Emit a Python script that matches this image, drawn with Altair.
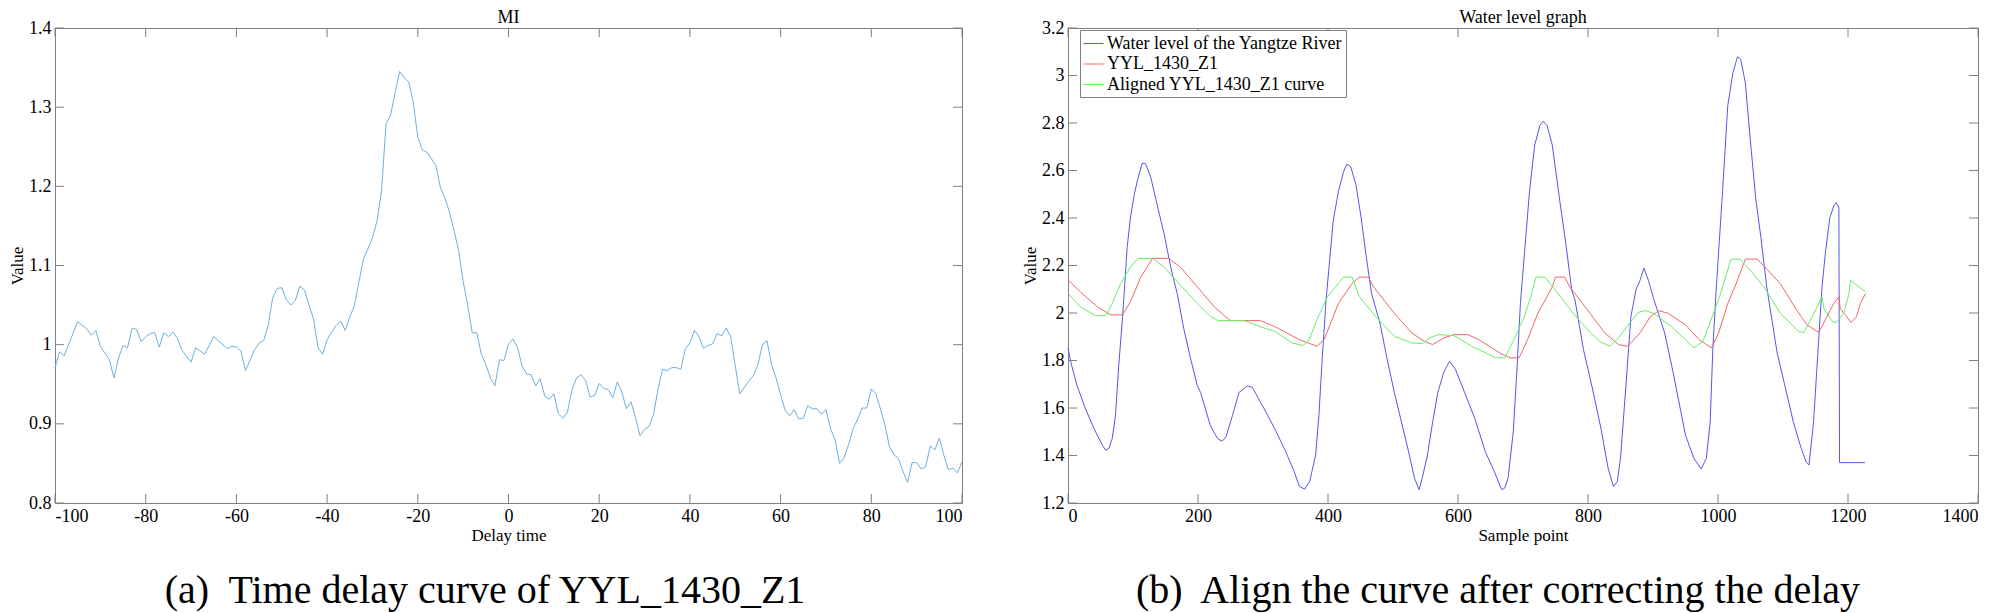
import altair as alt
import pandas as pd

FONT = "Liberation Serif"
AX = "#808080"

# ---------------- Left panel: MI time-delay curve ----------------
mi_delay = [-100, -99, -98, -95, -93, -92, -91, -90, -88, -87, -86, -85, -84, -83, -82, -81, -80,
            -79, -78, -77, -76, -75, -74, -73, -72, -70, -69, -67, -65, -62, -61, -60, -59, -58,
            -56, -55, -54, -53, -52, -51, -50, -49, -48, -47, -46, -45, -44, -43, -42, -41, -40,
            -39, -38, -37, -36, -35, -34, -32, -31, -30, -29, -28, -27, -26, -25, -24, -23, -22,
            -21, -20, -19, -18, -17, -16, -15, -14, -13, -12, -11, -10, -9, -8, -7, -6, -5, -4,
            -3, -2, -1, 0, 1, 2, 3, 4, 5, 6, 7, 8, 9, 10, 11, 12, 13, 14, 15, 16, 17, 18, 19, 20,
            21, 22, 23, 24, 25, 26, 27, 28, 29, 30, 31, 32, 33, 34, 35, 36, 37, 38, 39, 40, 41,
            42, 43, 44, 45, 46, 47, 48, 49, 50, 51, 52, 53, 54, 55, 56, 57, 58, 59, 60, 61, 62,
            63, 64, 65, 66, 67, 68, 69, 70, 71, 72, 73, 74, 75, 76, 77, 78, 79, 80, 81, 82, 83,
            84, 85, 86, 87, 88, 89, 90, 91, 92, 93, 94, 95, 96, 97, 98, 99, 100]
mi_value = [0.971, 0.991, 0.986, 1.029, 1.020, 1.012, 1.018, 0.998, 0.981, 0.958, 0.983, 0.999,
            0.996, 1.021, 1.019, 1.004, 1.010, 1.014, 1.015, 0.997, 1.015, 1.010, 1.016, 1.008,
            0.993, 0.978, 0.996, 0.988, 1.010, 0.995, 0.998, 0.997, 0.992, 0.967, 0.994, 1.002,
            1.005, 1.024, 1.059, 1.071, 1.072, 1.057, 1.050, 1.056, 1.074, 1.069, 1.050, 1.033,
            0.996, 0.988, 1.006, 1.016, 1.024, 1.030, 1.018, 1.035, 1.049, 1.108, 1.121, 1.135,
            1.156, 1.194, 1.279, 1.290, 1.318, 1.345, 1.337, 1.332, 1.306, 1.262, 1.246, 1.243,
            1.235, 1.226, 1.198, 1.185, 1.167, 1.144, 1.119, 1.080, 1.050, 1.015, 1.015, 0.988,
            0.975, 0.958, 0.948, 0.981, 0.980, 1.001, 1.007, 0.996, 0.973, 0.963, 0.962, 0.948,
            0.957, 0.935, 0.931, 0.938, 0.913, 0.907, 0.915, 0.943, 0.958, 0.962, 0.955, 0.934,
            0.936, 0.951, 0.945, 0.943, 0.933, 0.953, 0.940, 0.919, 0.928, 0.908, 0.885, 0.893,
            0.897, 0.912, 0.945, 0.969, 0.967, 0.971, 0.971, 0.969, 0.995, 1.002, 1.018, 1.010,
            0.995, 0.999, 1.001, 1.014, 1.011, 1.021, 1.010, 0.973, 0.938, 0.946, 0.954, 0.961,
            0.975, 1.000, 1.005, 0.975, 0.958, 0.937, 0.917, 0.910, 0.918, 0.906, 0.907, 0.923,
            0.919, 0.919, 0.912, 0.918, 0.894, 0.880, 0.850, 0.857, 0.874, 0.894, 0.906, 0.920,
            0.920, 0.944, 0.938, 0.919, 0.899, 0.871, 0.861, 0.856, 0.840, 0.826, 0.851, 0.851,
            0.843, 0.846, 0.872, 0.867, 0.882, 0.860, 0.842, 0.844, 0.838, 0.852]

# ---------------- Right panel: water level graph ----------------
river_x = [0, 4, 14, 27, 40, 53, 58, 63, 68, 73, 78, 84, 91, 96, 102, 107, 114, 119, 127, 137,
           148, 158, 168, 178, 189, 199, 204, 219, 230, 237, 243, 253, 263, 276, 284, 296, 302,
           318, 335, 348, 356, 364, 372, 381, 386, 391, 397, 408, 416, 424, 429, 435, 443, 451,
           459, 467, 480, 491, 502, 513, 524, 533, 540, 545, 553, 561, 569, 578, 587, 596, 610,
           626, 642, 656, 667, 672, 677, 685, 691, 696, 710, 718, 726, 731, 737, 745, 756, 766,
           775, 780, 793, 807, 820, 831, 839, 845, 850, 858, 866, 874, 880, 886, 893, 901, 918,
           931, 950, 963, 974, 982, 988, 992, 997, 1007, 1015, 1023, 1030, 1035, 1042, 1050,
           1058, 1066, 1075, 1091, 1103, 1116, 1128, 1136, 1140, 1147, 1152, 1160, 1165, 1172,
           1179, 1182, 1186, 1187, 1226]
river_y = [1.853, 1.797, 1.693, 1.596, 1.513, 1.443, 1.422, 1.430, 1.471, 1.568, 1.776, 1.985,
           2.276, 2.400, 2.500, 2.560, 2.630, 2.630, 2.575, 2.457, 2.332, 2.193, 2.082, 1.935,
           1.804, 1.693, 1.665, 1.526, 1.471, 1.460, 1.478, 1.568, 1.665, 1.693, 1.686, 1.624,
           1.596, 1.513, 1.416, 1.332, 1.270, 1.258, 1.293, 1.402, 1.568, 1.805, 2.055, 2.387,
           2.512, 2.596, 2.626, 2.616, 2.540, 2.401, 2.234, 2.082, 1.957, 1.805, 1.666, 1.541,
           1.416, 1.305, 1.256, 1.305, 1.402, 1.541, 1.666, 1.749, 1.798, 1.763, 1.666, 1.555,
           1.416, 1.332, 1.256, 1.263, 1.305, 1.499, 1.777, 2.040, 2.512, 2.707, 2.790, 2.807,
           2.790, 2.707, 2.484, 2.290, 2.095, 2.055, 1.846, 1.680, 1.513, 1.346, 1.270, 1.290,
           1.388, 1.680, 1.985, 2.100, 2.137, 2.189, 2.137, 2.060, 1.916, 1.749, 1.485, 1.388,
           1.343, 1.388, 1.541, 1.846, 2.090, 2.512, 2.873, 3.012, 3.079, 3.068, 2.970, 2.720,
           2.484, 2.318, 2.109, 1.832, 1.693, 1.540, 1.430, 1.370, 1.360, 1.540, 1.762, 2.109,
           2.248, 2.401, 2.457, 2.464, 2.443, 1.370, 1.370]

yyl_x = [0, 19, 45, 66, 84, 96, 112, 130, 155, 173, 199, 225, 245, 250, 296, 318, 356, 383, 394,
         416, 437, 448, 462, 470, 502, 529, 548, 561, 578, 594, 615, 632, 664, 680, 694, 707, 723,
         745, 750, 764, 772, 799, 826, 847, 861, 880, 896, 909, 923, 950, 971, 990, 1001, 1015,
         1028, 1042, 1060, 1070, 1096, 1121, 1137, 1155, 1165, 1178, 1186, 1188, 1196, 1205,
         1213, 1219, 1227]
yyl_y = [2.140, 2.089, 2.026, 1.992, 1.992, 2.047, 2.151, 2.230, 2.230, 2.193, 2.110, 2.026,
         1.978, 1.968, 1.968, 1.943, 1.888, 1.860, 1.888, 2.040, 2.124, 2.151, 2.151, 2.110,
         1.999, 1.916, 1.881, 1.867, 1.895, 1.909, 1.909, 1.888, 1.832, 1.811, 1.811, 1.888,
         1.999, 2.110, 2.151, 2.151, 2.110, 2.013, 1.916, 1.867, 1.860, 1.916, 1.985, 2.010,
         1.999, 1.950, 1.888, 1.853, 1.916, 2.040, 2.124, 2.227, 2.227, 2.200, 2.123, 2.012,
         1.950, 1.918, 1.971, 2.040, 2.068, 2.019, 1.991, 1.960, 1.984, 2.040, 2.082]

aligned_x = [0, 19, 42, 58, 68, 81, 96, 108, 130, 148, 173, 199, 219, 231, 271, 302, 318, 345,
             361, 370, 383, 399, 416, 424, 437, 448, 475, 502, 529, 545, 556, 569, 594, 621, 648,
             658, 672, 686, 702, 712, 720, 734, 750, 777, 804, 820, 834, 847, 864, 877, 888, 901,
             928, 950, 963, 977, 993, 1004, 1020, 1034, 1050, 1071, 1096, 1124, 1132, 1145, 1160,
             1163, 1176, 1182, 1193, 1201, 1204, 1214, 1227]
aligned_y = [2.082, 2.026, 1.989, 1.989, 2.040, 2.124, 2.193, 2.230, 2.230, 2.193, 2.117, 2.040,
             1.985, 1.968, 1.968, 1.936, 1.923, 1.874, 1.863, 1.881, 1.971, 2.068, 2.124, 2.151,
             2.151, 2.070, 1.980, 1.902, 1.874, 1.871, 1.895, 1.909, 1.905, 1.860, 1.825, 1.811,
             1.811, 1.888, 1.985, 2.068, 2.151, 2.151, 2.096, 1.999, 1.916, 1.877, 1.860, 1.895,
             1.957, 2.002, 2.010, 1.999, 1.943, 1.888, 1.853, 1.881, 1.999, 2.082, 2.227, 2.227,
             2.179, 2.109, 1.998, 1.922, 1.918, 1.985, 2.068, 2.019, 1.964, 1.960, 1.998, 2.075,
             2.137, 2.116, 2.089]

series_names = ["Water level of the Yangtze River", "YYL_1430_Z1", "Aligned YYL_1430_Z1 curve"]
series_colors = ["#5656e8", "#f06666", "#66ee66"]

left_xticks = [-100, -80, -60, -40, -20, 0, 20, 40, 60, 80, 100]
left_yticks = [0.8, 0.9, 1, 1.1, 1.2, 1.3, 1.4]
right_xticks = [0, 200, 400, 600, 800, 1000, 1200, 1400]
right_yticks = [1.2, 1.4, 1.6, 1.8, 2, 2.2, 2.4, 2.6, 2.8, 3, 3.2]

panel_titles = ["MI", "Water level graph"]
x_titles = ["Delay time", "Sample point"]
y_title = "Value"
captions = ["(a)\u00a0 Time delay curve of YYL_1430_Z1",
            "(b)\u00a0 Align the curve after correcting the delay"]

W_L, W_R, H = 907, 910, 475
TICK = 9


def axis(values, title):
    return alt.Axis(values=values, labelExpr="'' + datum.value", title=title,
                    domain=False, ticks=False, grid=False)


def inward_ticks(xt, yt, xs, ys, W, xa, ya):
    xdf = pd.DataFrame({"x": xt})
    ydf = pd.DataFrame({"y": yt})
    bx = alt.Chart(xdf).mark_rule(color=AX, strokeWidth=1)
    by = alt.Chart(ydf).mark_rule(color=AX, strokeWidth=1)
    return [
        bx.encode(x=alt.X("x:Q", scale=xs, axis=xa), y=alt.value(0), y2=alt.value(TICK)),
        bx.encode(x=alt.X("x:Q", scale=xs, axis=xa), y=alt.value(H), y2=alt.value(H - TICK)),
        by.encode(y=alt.Y("y:Q", scale=ys, axis=ya), x=alt.value(0), x2=alt.value(TICK)),
        by.encode(y=alt.Y("y:Q", scale=ys, axis=ya), x=alt.value(W - TICK), x2=alt.value(W)),
    ]


def caption(text, cx):
    return alt.Chart(pd.DataFrame({"t": [text]})).mark_text(
        font=FONT, fontSize=40, align="center", baseline="alphabetic", color="black"
    ).encode(text="t:N", x=alt.value(cx), y=alt.value(575))


# left
xs_l = alt.Scale(domain=[-100, 100], nice=False, zero=False)
ys_l = alt.Scale(domain=[0.8, 1.4], nice=False, zero=False)
xa_l = axis(left_xticks, x_titles[0])
ya_l = axis(left_yticks, y_title)
mi_df = pd.DataFrame({"x": mi_delay, "y": mi_value})
mi_line = alt.Chart(mi_df).mark_line(color="#6cb0de", strokeWidth=1).encode(
    x=alt.X("x:Q", scale=xs_l, axis=xa_l),
    y=alt.Y("y:Q", scale=ys_l, axis=ya_l),
)
left = alt.layer(mi_line, *inward_ticks(left_xticks, left_yticks, xs_l, ys_l, W_L, xa_l, ya_l),
                 caption(captions[0], 430)).properties(
    width=W_L, height=H, title=panel_titles[0])

# right
xs_r = alt.Scale(domain=[0, 1400], nice=False, zero=False)
ys_r = alt.Scale(domain=[1.2, 3.2], nice=False, zero=False)
xa_r = axis(right_xticks, x_titles[1])
ya_r = axis(right_yticks, y_title)
frames = []
for name, xs, ys in zip(series_names, [river_x, yyl_x, aligned_x], [river_y, yyl_y, aligned_y]):
    frames.append(pd.DataFrame({"x": xs, "y": ys, "series": name, "order": range(len(xs))}))
wl_df = pd.concat(frames, ignore_index=True)
wl_lines = alt.Chart(wl_df).mark_line(strokeWidth=1).encode(
    x=alt.X("x:Q", scale=xs_r, axis=xa_r),
    y=alt.Y("y:Q", scale=ys_r, axis=ya_r),
    color=alt.Color("series:N",
                    scale=alt.Scale(domain=series_names, range=series_colors),
                    sort=series_names,
                    legend=alt.Legend(orient="none", legendX=12, legendY=2, title=None,
                                      symbolType="M-1,0L1,0", symbolSize=400, symbolStrokeWidth=1,
                                      labelFont=FONT, labelFontSize=18, labelColor="black",
                                      strokeColor=AX, fillColor="white", padding=3,
                                      rowPadding=0.5, labelOffset=3, labelLimit=500)),
    order="order:Q",
)
right = alt.layer(wl_lines, *inward_ticks(right_xticks, right_yticks, xs_r, ys_r, W_R, xa_r, ya_r),
                  caption(captions[1], 430)).properties(
    width=W_R, height=H, title=panel_titles[1])

chart = alt.hconcat(left, right, spacing=56).resolve_legend(color="independent").properties(
    padding={"left": 0, "top": 0, "right": 0, "bottom": 0}, background="white"
).configure_view(stroke=AX, strokeWidth=1).configure_axis(
    labelFont=FONT, labelFontSize=18, labelColor="black", labelPadding=4,
    titleFont=FONT, titleFontSize=17, titleFontWeight="normal", titleColor="black",
    titlePadding=2,
).configure_title(
    font=FONT, fontSize=18, fontWeight="normal", color="black", offset=-8
)

chart.save("out.html", embed_options={"renderer": "svg", "actions": False})
